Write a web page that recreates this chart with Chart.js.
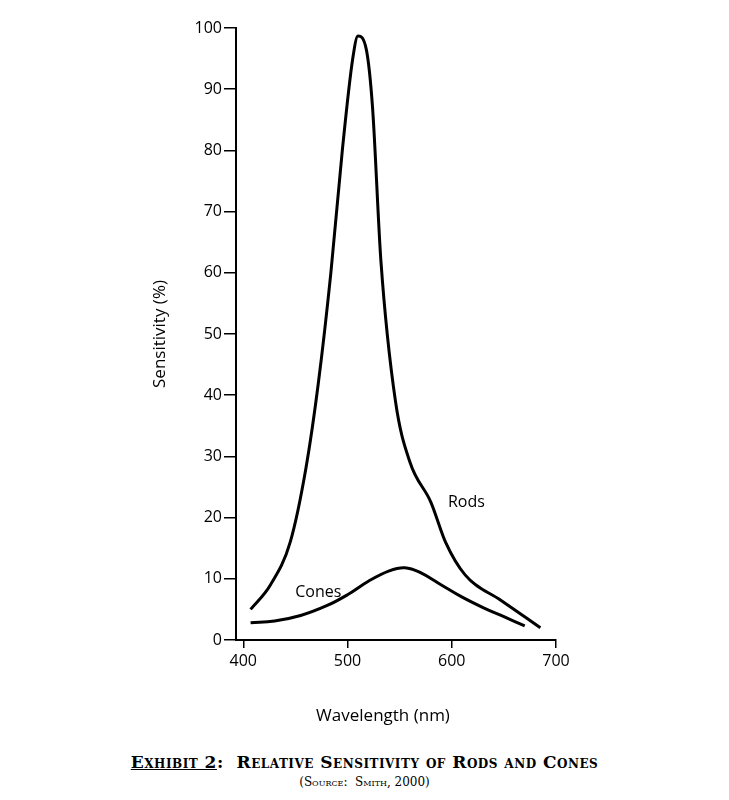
<!DOCTYPE html>
<html lang="en">
<head>
<meta charset="UTF-8">
<title>Relative Sensitivity of Rods and Cones</title>
<script src="https://cdn.jsdelivr.net/npm/chart.js@4.4.0/dist/chart.umd.min.js"></script>
<style>
    body { margin: 0; background: #fff; width: 729px; height: 800px; position: relative; font-family: "DejaVu Serif", serif; }
    #wrap { position: absolute; left: 0; top: 0; width: 729px; height: 740px; }
    .cap { position: absolute; left: 0; width: 729px; text-align: center; font-variant: small-caps; color: #000; }
    #cap1 { top: 752px; font-size: 17px; font-weight: bold; letter-spacing: 0.5px; }
    #cap2 { top: 775px; font-size: 12px; }
</style>
</head>
<body>
<div id="wrap"><canvas id="chart" width="729" height="740"></canvas></div>
<div class="cap" id="cap1"><u>Exhibit 2</u>:&nbsp; Relative Sensitivity of Rods and Cones</div>
<div class="cap" id="cap2">(Source:&nbsp; Smith, 2000)</div>
<script>
    // wavelength (nm) and sensitivity (%)
    const rodsX = [407, 426, 445, 460, 472, 484, 495, 505, 510, 518, 524, 532, 546, 560, 580, 594, 613, 647, 685];
    const rodsY = [5, 9, 16, 28, 42, 60, 80, 95, 98.7, 96.5, 87, 62, 39, 29, 22.5, 16, 10.6, 6.5, 2];
    const conesX = [407, 430, 455, 480, 500, 520, 540, 555, 570, 590, 610, 630, 650, 670];
    const conesY = [2.8, 3.1, 4.0, 5.6, 7.4, 9.6, 11.3, 11.8, 11.0, 9.0, 7.0, 5.3, 3.8, 2.3];
    const curveLabels = [
        { text: 'Rods', x: 614, y: 22.5 },
        { text: 'Cones', x: 472, y: 7.7 }
    ];

    const toPts = (xs, ys) => xs.map((x, i) => ({ x: x, y: ys[i] }));
    const tickFont = { family: 'Open Sans', size: 16 };

    const overlay = {
        id: 'overlay',
        afterDraw(chart) {
            const ctx = chart.ctx, sx = chart.scales.x, sy = chart.scales.y;
            ctx.save();
            ctx.fillStyle = '#000';
            ctx.font = '16px "Open Sans"';
            ctx.textAlign = 'center';
            ctx.textBaseline = 'middle';
            curveLabels.forEach(l => ctx.fillText(l.text, sx.getPixelForValue(l.x), sy.getPixelForValue(l.y)));
            ctx.font = '17px "Open Sans"';
            ctx.fillText('Wavelength (nm)', 383, 716);
            ctx.translate(160, 334);
            ctx.rotate(-Math.PI / 2);
            ctx.fillText('Sensitivity (%)', 0, 0);
            ctx.restore();
        }
    };

    new Chart(document.getElementById('chart'), {
        type: 'scatter',
        data: {
            datasets: [
                { label: 'Rods', data: toPts(rodsX, rodsY), showLine: true, tension: 0.4, cubicInterpolationMode: 'monotone', borderColor: '#000', borderWidth: 3, pointRadius: 0 },
                { label: 'Cones', data: toPts(conesX, conesY), showLine: true, tension: 0.4, borderColor: '#000', borderWidth: 3, pointRadius: 0 }
            ]
        },
        options: {
            responsive: false,
            animation: false,
            layout: { padding: { top: 28, right: 173, left: 0, bottom: 0 } },
            plugins: { legend: { display: false }, tooltip: { enabled: false } },
            scales: {
                x: {
                    type: 'linear', min: 393, max: 700,
                    afterBuildTicks: s => { s.ticks = [400, 500, 600, 700].map(v => ({ value: v })); },
                    afterFit: s => { s.height = 100; },
                    border: { color: '#000', width: 2 },
                    grid: { drawOnChartArea: false, color: '#000', tickLength: 8, lineWidth: 1.5 },
                    ticks: { color: '#000', font: tickFont, padding: 4 }
                },
                y: {
                    min: 0, max: 100,
                    afterFit: s => { s.width = 236; },
                    border: { color: '#000', width: 2 },
                    grid: { drawOnChartArea: false, color: '#000', tickLength: 12, lineWidth: 1.5 },
                    ticks: { stepSize: 10, color: '#000', font: tickFont, padding: 2 }
                }
            }
        },
        plugins: [overlay]
    });
</script>
</body>
</html>
